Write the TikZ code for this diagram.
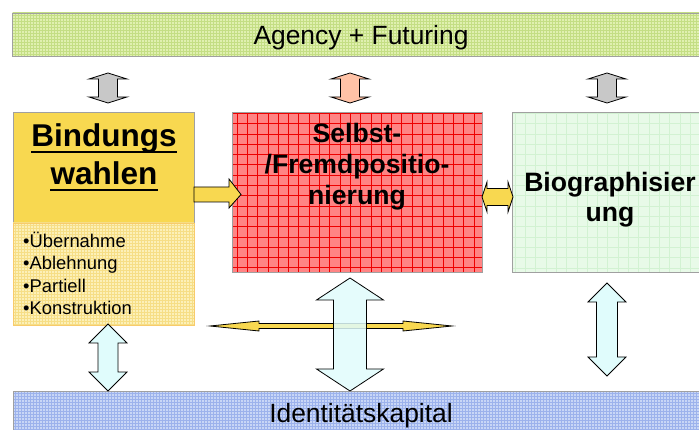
\documentclass[tikz,border=0pt]{standalone}
\usepackage{fontspec}
\setmainfont{Liberation Sans}
\definecolor{topg}{HTML}{E0F0B0}
\definecolor{topgl}{HTML}{C4DE84}
\definecolor{bindy}{HTML}{F8D850}
\definecolor{listy}{HTML}{FCF0B8}
\definecolor{listyl}{HTML}{F6DE86}
\definecolor{redf}{HTML}{FF8484}
\definecolor{redl}{HTML}{EE0000}
\definecolor{greenf}{HTML}{E8FAE8}
\definecolor{greenl}{HTML}{D2F2D2}
\definecolor{bluef}{HTML}{C8D6F6}
\definecolor{bluel}{HTML}{9CB2EC}
\definecolor{grayarr}{HTML}{C8C8C8}
\definecolor{salmonarr}{HTML}{FFC2A6}
\definecolor{cyanarr}{HTML}{E0FCFC}
\definecolor{edgegray}{HTML}{A0A0A0}
% vertical double block arrow: cx, ytop, ybot, shaft, headwidth, headlength, style
\newcommand\vdarr[7]{%
  \draw[#7] (#1,#2) -- ({#1+#5/2},{#2+#6}) -- ({#1+#4/2},{#2+#6}) -- ({#1+#4/2},{#3-#6})
    -- ({#1+#5/2},{#3-#6}) -- (#1,#3) -- ({#1-#5/2},{#3-#6}) -- ({#1-#4/2},{#3-#6})
    -- ({#1-#4/2},{#2+#6}) -- ({#1-#5/2},{#2+#6}) -- cycle;}
% horizontal double block arrow: cy, xleft, xright, shaft, headwidth, headlength, style
\newcommand\hdarr[7]{%
  \draw[#7] (#2,#1) -- ({#2+#6},{#1-#5/2}) -- ({#2+#6},{#1-#4/2}) -- ({#3-#6},{#1-#4/2})
    -- ({#3-#6},{#1-#5/2}) -- (#3,#1) -- ({#3-#6},{#1+#5/2}) -- ({#3-#6},{#1+#4/2})
    -- ({#2+#6},{#1+#4/2}) -- ({#2+#6},{#1+#5/2}) -- cycle;}
\tikzset{
  arrowline/.style={draw=black, line width=0.8pt, line join=miter},
  boxtext/.style={font=\fontsize{26.6}{30}\selectfont\bfseries, anchor=base, inner sep=0pt},
  bartext/.style={font=\fontsize{26.4}{30}\selectfont, anchor=base, inner sep=0pt},
  listtext/.style={font=\fontsize{18.4}{22}\selectfont, anchor=base west, inner sep=0pt},
  bindtext/.style={font=\fontsize{31.5}{36}\selectfont\bfseries, anchor=base, inner sep=0pt}
}
\begin{document}
\begin{tikzpicture}[x=1pt,y=-1pt]
\useasboundingbox (0,0) rectangle (699,430);
% top bar
\fill[topg] (12.5,13) rectangle (700,56);
\begin{scope}
  \clip (12.5,13) rectangle (700,56);
  \draw[topgl, line width=0.35pt, step=3pt] (12,12) grid (702,57);
\end{scope}
\draw[edgegray, line width=0.8pt] (700,13) -- (12.5,13) -- (12.5,56) -- (700,56);
\node[bartext] (agency) at (361,45) {Agency + Futuring};
% bottom bar
\fill[bluef] (13,391) rectangle (700,431);
\begin{scope}
  \clip (13,391) rectangle (700,431);
  \draw[bluel, line width=0.35pt, step=3pt] (12,390) grid (702,432);
\end{scope}
\draw[edgegray, line width=0.8pt] (700,391) -- (13,391) -- (13,431);
\node[bartext] (ident) at (361,422) {Identitätskapital};
% Bindungswahlen box
\fill[bindy] (13,112) rectangle (194,223);
\draw[edgegray, line width=0.8pt] (13,112) rectangle (194,223);
\node[bindtext] (bind1) at (104,147) {Bindungs};
\node[bindtext] (bind2) at (104,185) {wahlen};
\draw[line width=2.7pt] ([yshift=-5pt]bind1.base west) -- ([yshift=-5pt]bind1.base east);
\draw[line width=2.7pt] ([yshift=-5pt]bind2.base west) -- ([yshift=-5pt]bind2.base east);
% list box
\fill[listy] (13,223) rectangle (194,325);
\begin{scope}
  \clip (13,223) rectangle (194,325);
  \draw[listyl, line width=0.35pt, step=3pt] (12,222) grid (195,326);
\end{scope}
\draw[listyl!80!orange, line width=0.6pt] (13,223) rectangle (194,325);
\node[listtext] (l1) at (23,247.5) {•Übernahme};
\node[listtext] (l2) at (23,269.8) {•Ablehnung};
\node[listtext] (l3) at (23,292.1) {•Partiell};
\node[listtext] (l4) at (23,314.4) {•Konstruktion};
% red box
\fill[redf] (232,112) rectangle (482,272);
\begin{scope}
  \clip (232,112) rectangle (482,272);
  \draw[redl, line width=0.6pt, step=10.3pt] (232,112) grid (484,274);
\end{scope}
\draw[edgegray, line width=0.8pt] (232,112) rectangle (482,272);
\node[boxtext] (sf1) at (357,143) {Selbst-};
\node[boxtext] (sf2) at (357,174) {/Fremdpositio-};
\node[boxtext] (sf3) at (357,204.5) {nierung};
% green box
\fill[greenf] (512,112) rectangle (700,272);
\begin{scope}
  \clip (512,112) rectangle (700,272);
  \draw[greenl, line width=0.5pt, step=10.3pt] (512,112) grid (702,274);
\end{scope}
\draw[edgegray, line width=0.8pt] (700,112) -- (512,112) -- (512,272) -- (700,272);
\node[boxtext] (bio1) at (610,192) {Biographisier};
\node[boxtext] (bio2) at (610,222) {ung};
% top arrows
\vdarr{108}{73}{103}{19}{38}{6}{arrowline, fill=grayarr}
\vdarr{350}{73}{103}{19}{38}{6}{arrowline, fill=salmonarr}
\vdarr{607}{73}{103}{19}{38}{6}{arrowline, fill=grayarr}
% yellow arrow Bindungs -> red box
\draw[arrowline, fill=bindy] (194,187) -- (229,187) -- (229,179) -- (241,194.5) -- (229,208) -- (229,202) -- (194,202) -- cycle;
% yellow double arrow red <-> green
\hdarr{197}{482}{513}{17}{30}{5}{arrowline, fill=bindy}
% horizontal thin yellow double arrow
\hdarr{326}{210}{452}{5}{10}{49}{arrowline, fill=bindy}
% cyan arrows
\vdarr{108}{324}{391}{20}{38}{19}{arrowline, fill=cyanarr}
\vdarr{350}{278}{391}{33}{67}{22}{arrowline, fill=cyanarr, fill opacity=0.85}
\vdarr{607}{283}{376}{21}{38}{19}{arrowline, fill=cyanarr}
\end{tikzpicture}
\end{document}
